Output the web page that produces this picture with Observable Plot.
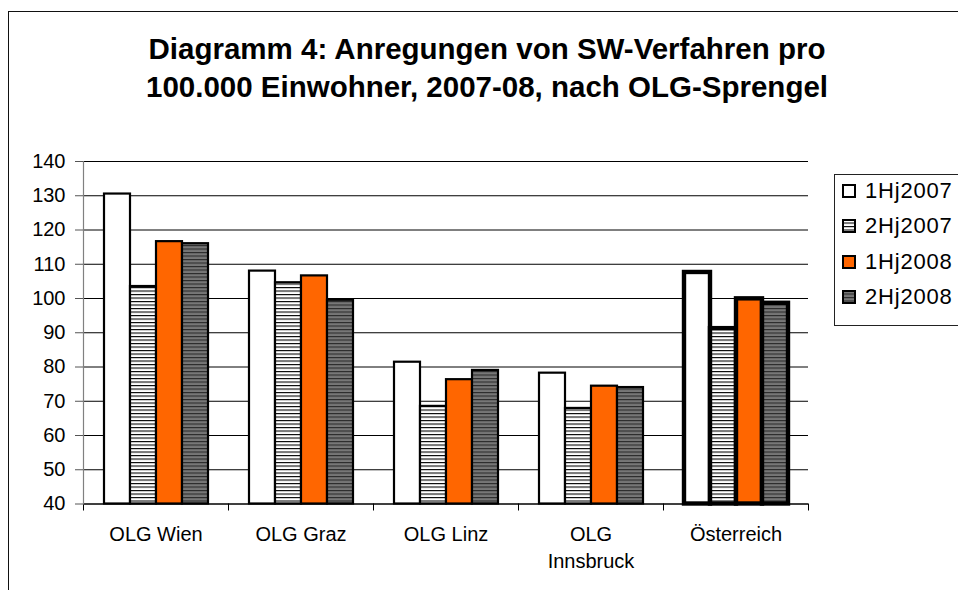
<!DOCTYPE html>
<html>
<head>
<meta charset="utf-8">
<script src="https://cdn.jsdelivr.net/npm/d3@7"></script>
<script src="https://cdn.jsdelivr.net/npm/@observablehq/plot@0.6"></script>
<style>
  html, body { margin: 0; padding: 0; background: #fff; }
  #root { position: relative; width: 958px; height: 590px; overflow: hidden; background: #fff;
          font-family: "Liberation Sans", Arial, Helvetica, sans-serif; color: #000; }
  #frame { position: absolute; left: 8px; top: 11px; width: 2000px; height: 2000px;
           border-left: 1.5px solid #111; border-top: 1.5px solid #111; }
  #title { position: absolute; left: 0; top: 30px; width: 974px; text-align: center;
           font-weight: bold; font-size: 29.5px; line-height: 38px; }
  #chart { position: absolute; left: 0; top: 0; }
  #legend { position: absolute; left: 834px; top: 174px; width: 300px; height: 150px;
            border: 1px solid #222; background: #fff; }
  .item { position: absolute; left: 7px; height: 24px; display: flex; align-items: center;
          font-size: 22px; letter-spacing: 0.8px; white-space: nowrap; }
  .item svg { margin-right: 9px; }
</style>
</head>
<body>
<div id="root">
  <svg width="0" height="0" style="position:absolute">
    <defs>
      <pattern id="hatchWhite" patternUnits="userSpaceOnUse" width="10" height="3.5">
        <rect width="10" height="3.5" fill="#ffffff"></rect>
        <rect y="0" width="10" height="1.1" fill="#000000"></rect>
      </pattern>
      <pattern id="hatchGray" patternUnits="userSpaceOnUse" width="10" height="3.5">
        <rect width="10" height="3.5" fill="#777777"></rect>
        <rect y="0" width="10" height="1.1" fill="#2a2a2a"></rect>
      </pattern>
    </defs>
  </svg>
  <div id="frame"></div>
  <div id="title">Diagramm 4: Anregungen von SW-Verfahren pro<br>100.000 Einwohner, 2007-08, nach OLG-Sprengel</div>
  <div id="chart"></div>
  <div id="legend"></div>
</div>
<script>
// ---- data ----
const categories = ["OLG Wien", "OLG Graz", "OLG Linz", "OLG Innsbruck", "Österreich"];
const categoryLabels = ["OLG Wien", "OLG Graz", "OLG Linz", "OLG\nInnsbruck", "Österreich"];
const series = ["1Hj2007", "2Hj2007", "1Hj2008", "2Hj2008"];
const v1Hj2007 = [130.5, 108.0, 81.4, 78.2, 107.6];
const v2Hj2007 = [103.5, 104.6, 68.5, 67.9, 91.2];
const v1Hj2008 = [116.6, 106.6, 76.3, 74.4, 99.9];
const v2Hj2008 = [116.0, 99.5, 79.0, 74.0, 98.6];
const yTicks = [40, 50, 60, 70, 80, 90, 100, 110, 120, 130, 140];
const seriesFills = ["#ffffff", "url(#hatchWhite)", "#ff6600", "url(#hatchGray)"];

const values = [v1Hj2007, v2Hj2007, v1Hj2008, v2Hj2008];
const data = [];
categories.forEach((c, i) => series.forEach((s, j) => data.push({category: c, series: s, value: values[j][i]})));
const fillOf = Object.fromEntries(series.map((s, j) => [s, seriesFills[j]]));
const labelOf = Object.fromEntries(categories.map((c, i) => [c, categoryLabels[i]]));

const plot = Plot.plot({
  width: 958,
  height: 590,
  marginTop: 161,
  marginBottom: 86.5,
  marginLeft: 81,
  marginRight: 149,
  style: {fontFamily: '"Liberation Sans", Arial, sans-serif', fontSize: "20px", color: "#000", background: "transparent", overflow: "visible"},
  fx: {domain: categories, padding: 0, label: null, axis: null},
  x: {domain: series, paddingInner: 0, paddingOuter: 0.757, axis: null},
  y: {domain: [40, 140], label: null, axis: null},
  color: {type: "identity"},
  marks: [
    Plot.gridY(yTicks, {stroke: "#000", strokeOpacity: 1, strokeWidth: 1}),
    Plot.barY(data, {
      fx: "category", x: "series", y1: 40, y2: "value",
      fill: d => fillOf[d.series],
      stroke: "#000",
      strokeWidth: d => d.category === "Österreich" ? 4.4 : 2.2
    }),
    Plot.ruleY([40], {stroke: "#000", strokeWidth: 1}),
    Plot.frame({anchor: "left", insetTop: 342.5, insetBottom: -6, stroke: "#000"}),
    Plot.frame({anchor: "right", facetAnchor: "right", insetTop: 342.5, insetBottom: -6, stroke: "#000"}),
    Plot.frame({anchor: "left", facetAnchor: "left", stroke: "#808080", strokeWidth: 1.2}),
    Plot.axisY(yTicks, {tickSize: 8, tickPadding: 10, fontSize: 20, stroke: "#555", fill: "#000"}),
    Plot.text(categories, {
      fx: d => d, text: d => labelOf[d], frameAnchor: "bottom", lineAnchor: "top",
      dy: 18, lineHeight: 1.35, fontSize: 20, fill: "#000"
    })
  ]
});
document.getElementById("chart").appendChild(plot);

// ---- legend ----
const legend = document.getElementById("legend");
series.forEach((s, j) => {
  const row = document.createElement("div");
  row.className = "item";
  row.style.top = (4 + j * 35.3) + "px";
  row.innerHTML = `<svg width="14" height="14"><rect x="1" y="1" width="12" height="12" fill="${seriesFills[j]}" stroke="#000" stroke-width="2"></rect></svg><span>${s}</span>`;
  legend.appendChild(row);
});
</script>
</body>
</html>
